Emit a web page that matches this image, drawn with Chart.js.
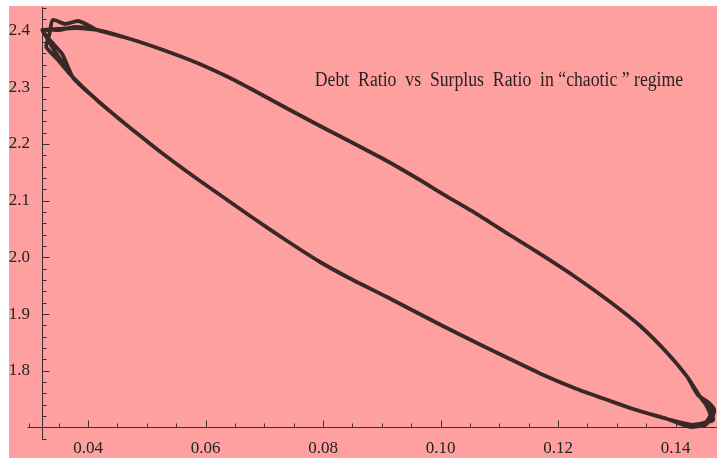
<!DOCTYPE html>
<html>
<head>
<meta charset="utf-8">
<script src="https://cdn.jsdelivr.net/npm/chart.js@4.4.1/dist/chart.umd.min.js"></script>
<style>
    html, body { margin: 0; padding: 0; background: #fff; }
    body { width: 717px; height: 458px; position: relative; overflow: hidden; }
    #chart { position: absolute; left: 9px; top: 6px; background: #ffa0a0; }
</style>
</head>
<body>
<canvas id="chart" width="708" height="452"></canvas>
<script>
// Surplus ratio (x) vs debt ratio (y)

// upper edge of the loop, left to right
const upperX = [0.0415, 0.0472, 0.0528, 0.0586, 0.0642, 0.0681, 0.0739, 0.0795, 0.0851, 0.0909,
                0.0965, 0.1004, 0.1062, 0.1118, 0.1175, 0.1232, 0.1289, 0.1340, 0.1386, 0.1420];
const upperY = [2.4011, 2.3852, 2.3658, 2.3429, 2.3164, 2.2952, 2.2626, 2.2317, 2.2018, 2.1700,
                2.1365, 2.1118, 2.0765, 2.0395, 2.0025, 1.9637, 1.9213, 1.8790, 1.8314, 1.7891];

// lower edge of the loop, right to left
const lowerX = [0.1386, 0.1328, 0.1289, 0.1232, 0.1175, 0.1118, 0.1062, 0.1004, 0.0948, 0.0909,
                0.0851, 0.0795, 0.0739, 0.0681, 0.0642, 0.0586, 0.0528, 0.0472, 0.0443, 0.0415];
const lowerY = [1.7150, 1.7326, 1.7467, 1.7679, 1.7926, 1.8208, 1.8490, 1.8790, 1.9090, 1.9302,
                1.9601, 1.9919, 2.0289, 2.0695, 2.0977, 2.1383, 2.1824, 2.2282, 2.2529, 2.2776];

// the loop is run three times, each turn at the ends is a bit different
const leftTurnX = [
    [0.0363, 0.0342, 0.0325, 0.0322, 0.0349, 0.0378],
    [0.0369, 0.0349, 0.0329, 0.0334, 0.0340, 0.0361, 0.0383, 0.0403],
    [0.0375, 0.0356, 0.0335, 0.0323, 0.0352, 0.0378]
];
const leftTurnY = [
    [2.3340, 2.3658, 2.3958, 2.4011, 2.4028, 2.4046],
    [2.3235, 2.3481, 2.3711, 2.3922, 2.4187, 2.4116, 2.4169, 2.4081],
    [2.3164, 2.3587, 2.3834, 2.4011, 2.4011, 2.4064]
];
const rightTurnX = [
    [0.1442, 0.1459, 0.1464, 0.1447, 0.1420],
    [0.1438, 0.1455, 0.1466, 0.1462, 0.1450, 0.1425],
    [0.1442, 0.1452, 0.1459, 0.1452, 0.1433]
];
const rightTurnY = [
    [1.7538, 1.7309, 1.7132, 1.7079, 1.7044],
    [1.7573, 1.7450, 1.7309, 1.7168, 1.7044, 1.7009],
    [1.7538, 1.7397, 1.7221, 1.7097, 1.7044]
];

// axis ticks
const xTicks = [0.04, 0.06, 0.08, 0.10, 0.12, 0.14];
const yTicks = [1.8, 1.9, 2.0, 2.1, 2.2, 2.3, 2.4];

const titleText = 'Debt  Ratio  vs  Surplus  Ratio  in \u201cchaotic \u201d regime';

const lineColor = '#3a2826';
const axisColor = '#3b3030';

function pairUp(xs, ys) {
    return xs.map((x, i) => ({ x: x, y: ys[i] }));
}

const loopPoints = [];
for (let lap = 0; lap < 3; lap++) {
    loopPoints.push(...pairUp(leftTurnX[lap], leftTurnY[lap]));
    loopPoints.push(...pairUp(upperX, upperY));
    loopPoints.push(...pairUp(rightTurnX[lap], rightTurnY[lap]));
    loopPoints.push(...pairUp(lowerX, lowerY));
}

// keep the plot box fixed: axes get a set size and no label overflow padding
function fixSize(scale, size) {
    if (scale.isHorizontal()) {
        scale.height = size;
    } else {
        scale.width = size;
    }
    scale.paddingTop = 0;
    scale.paddingBottom = 0;
    scale.paddingLeft = 0;
    scale.paddingRight = 0;
}

// inward tick marks, axis overhangs and the caption
const axesExtras = {
    id: 'axesExtras',
    beforeDatasetsDraw(chart) {
        const { ctx, chartArea, scales: { x, y } } = chart;
        const x0 = Math.round(chartArea.left) + 0.5;
        const y0 = Math.round(chartArea.bottom) + 0.5;
        ctx.save();
        ctx.strokeStyle = axisColor;
        ctx.lineWidth = 1;
        ctx.beginPath();
        // axis parts beyond the crossing point
        ctx.moveTo(x.getPixelForValue(0.0297), y0);
        ctx.lineTo(x0, y0);
        ctx.moveTo(x0, y0);
        ctx.lineTo(x0, y.getPixelForValue(1.6778));
        // x ticks every 0.005, long ones on the labels
        for (let i = 6; i <= 29; i++) {
            const v = i * 0.005;
            const px = Math.round(x.getPixelForValue(v)) + 0.5;
            const len = i % 4 === 0 ? 7 : 4;
            ctx.moveTo(px, y0);
            ctx.lineTo(px, y0 - len);
        }
        // y ticks every 0.02
        for (let i = 84; i <= 122; i++) {
            const v = i * 0.02;
            const py = Math.round(y.getPixelForValue(v)) + 0.5;
            const len = i % 5 === 0 ? 7 : 4;
            ctx.moveTo(x0, py);
            ctx.lineTo(x0 + len, py);
        }
        ctx.stroke();

        // caption inside the plot
        ctx.fillStyle = '#2a1f1f';
        ctx.font = '20px "Liberation Serif", "Times New Roman", serif';
        ctx.textBaseline = 'alphabetic';
        const left = x.getPixelForValue(0.0786);
        const right = x.getPixelForValue(0.1413);
        const base = y.getPixelForValue(2.3023);
        const w = ctx.measureText(titleText).width;
        ctx.translate(left, base);
        ctx.scale((right - left) / w, 1);
        ctx.fillText(titleText, 0, 0);
        ctx.restore();
    }
};

const tickFont = { family: '"Liberation Serif", "Times New Roman", serif', size: 17 };

new Chart(document.getElementById('chart'), {
    type: 'scatter',
    data: {
        datasets: [{
            data: loopPoints,
            showLine: true,
            borderColor: lineColor,
            borderWidth: 3.8,
            pointRadius: 0,
            tension: 0.2,
            fill: false,
            clip: false
        }]
    },
    options: {
        responsive: false,
        animation: false,
        events: [],
        layout: { padding: { top: 1, right: 0, bottom: 0, left: 0 } },
        plugins: {
            legend: { display: false },
            tooltip: { enabled: false },
            title: { display: false }
        },
        scales: {
            x: {
                type: 'linear',
                position: 'bottom',
                min: 0.03217,
                max: 0.14706,
                afterBuildTicks: (scale) => { scale.ticks = xTicks.map(v => ({ value: v })); },
                afterFit: (scale) => fixSize(scale, 31),
                grid: { display: false, drawTicks: false },
                border: { display: true, color: axisColor, width: 1 },
                ticks: {
                    color: '#222',
                    font: tickFont,
                    padding: 11,
                    maxRotation: 0,
                    callback: (v) => Number(v).toFixed(2)
                }
            },
            y: {
                type: 'linear',
                position: 'left',
                min: 1.70088,
                max: 2.44162,
                afterBuildTicks: (scale) => { scale.ticks = yTicks.map(v => ({ value: v })); },
                afterFit: (scale) => fixSize(scale, 33),
                grid: { display: false, drawTicks: false },
                border: { display: true, color: axisColor, width: 1 },
                ticks: {
                    color: '#222',
                    font: tickFont,
                    padding: 12,
                    callback: (v) => Number(v).toFixed(1)
                }
            }
        }
    },
    plugins: [axesExtras]
});
</script>
</body>
</html>
